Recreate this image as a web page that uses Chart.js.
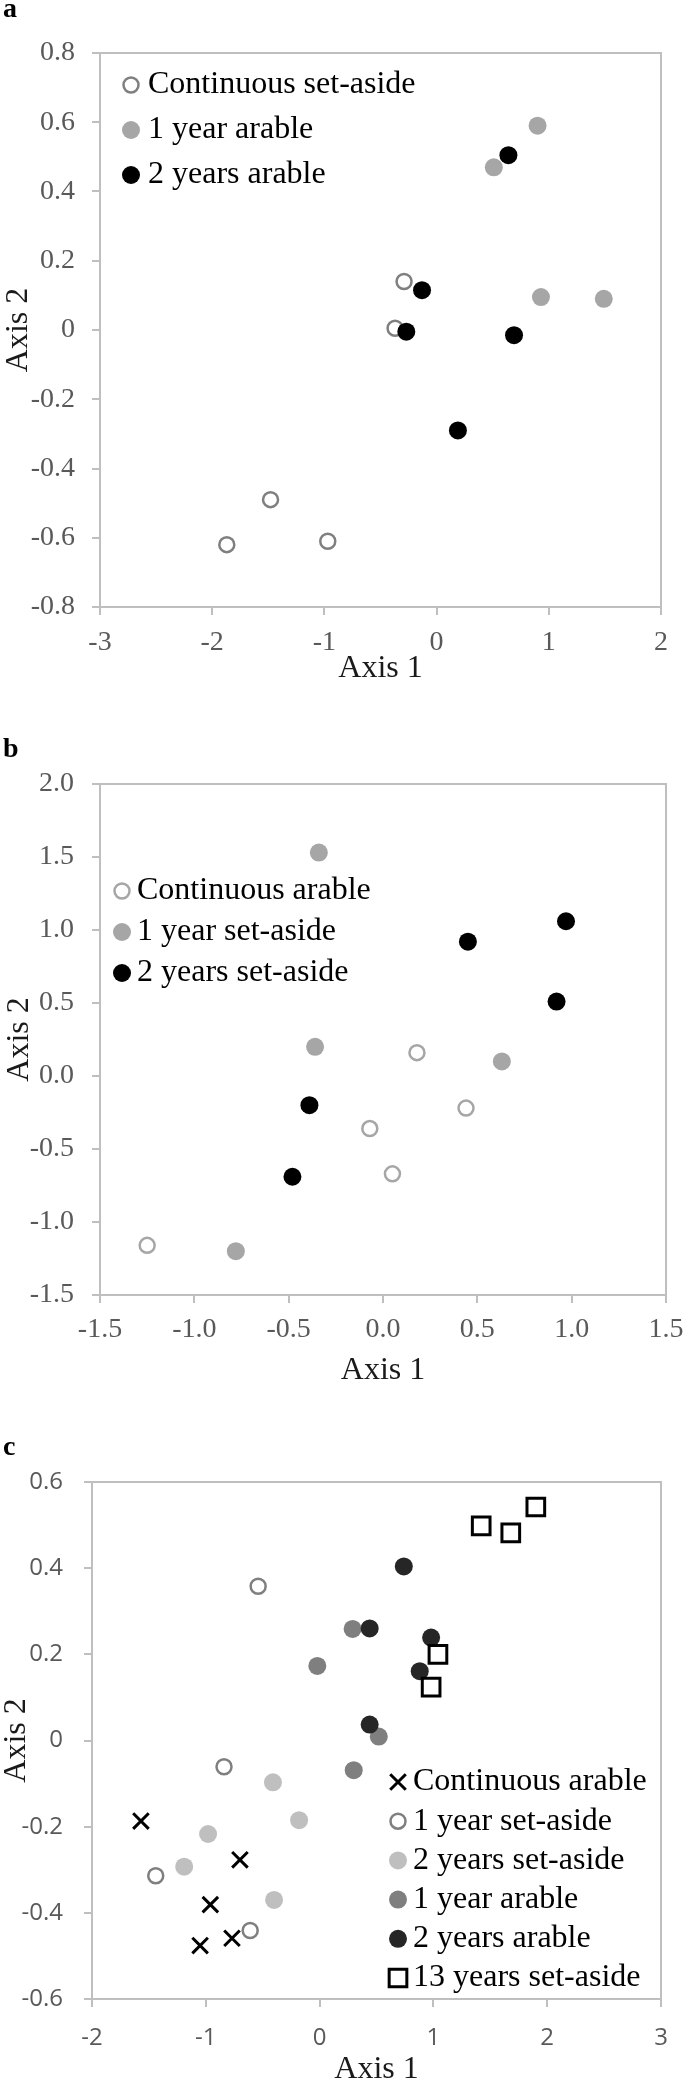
<!DOCTYPE html>
<html>
<head>
<meta charset="utf-8">
<script src="https://cdn.jsdelivr.net/npm/chart.js@4/dist/chart.umd.min.js"></script>
<style>
  body { margin: 0; width: 685px; height: 2081px; overflow: hidden; background: #fff; position: relative; }
  canvas { position: absolute; left: 0; }
  .lbl { position: absolute; left: 3px; font: bold 28px "Liberation Serif", serif; line-height: 28px; color: #000; }
</style>
</head>
<body>
<canvas id="ca" width="685" height="700" style="top:0"></canvas>
<canvas id="cb" width="685" height="700" style="top:700px"></canvas>
<canvas id="cc" width="685" height="700" style="top:1400px"></canvas>
<div class="lbl" style="top:-6px">a</div>
<div class="lbl" style="top:734px">b</div>
<div class="lbl" style="top:1432px">c</div>
<script>
// panel a
const aSetAsideX = [-0.29, -0.37, -1.48, -1.87, -0.97];
const aSetAsideY = [0.14, 0.005, -0.49, -0.62, -0.61];
const aArable1X = [0.90, 0.51, 0.93, 1.49];
const aArable1Y = [0.59, 0.47, 0.095, 0.09];
const aArable2X = [0.64, -0.13, -0.27, 0.69, 0.19];
const aArable2Y = [0.505, 0.115, -0.005, -0.015, -0.29];
const aXTicks = [-3, -2, -1, 0, 1, 2];
const aXLabels = ['-3', '-2', '-1', '0', '1', '2'];
const aYTicks = [-0.8, -0.6, -0.4, -0.2, 0, 0.2, 0.4, 0.6, 0.8];
const aYLabels = ['-0.8', '-0.6', '-0.4', '-0.2', '0', '0.2', '0.4', '0.6', '0.8'];

// panel b
const bArableX = [0.18, 0.44, -0.07, 0.05, -1.25];
const bArableY = [0.16, -0.22, -0.36, -0.67, -1.16];
const bSetAside1X = [-0.34, -0.36, 0.63, -0.78];
const bSetAside1Y = [1.53, 0.20, 0.10, -1.20];
const bSetAside2X = [0.45, 0.97, 0.92, -0.39, -0.48];
const bSetAside2Y = [0.92, 1.06, 0.51, -0.20, -0.69];
const bXTicks = [-1.5, -1.0, -0.5, 0, 0.5, 1.0, 1.5];
const bXLabels = ['-1.5', '-1.0', '-0.5', '0.0', '0.5', '1.0', '1.5'];
const bYTicks = [-1.5, -1.0, -0.5, 0, 0.5, 1.0, 1.5, 2.0];
const bYLabels = ['-1.5', '-1.0', '-0.5', '0.0', '0.5', '1.0', '1.5', '2.0'];

// panel c
const cArableX = [-1.57, -0.70, -0.96, -0.77, -1.05];
const cArableY = [-0.187, -0.277, -0.381, -0.459, -0.476];
const cSetAside1X = [-0.54, -0.84, -1.44, -0.61];
const cSetAside1Y = [0.358, -0.061, -0.314, -0.441];
const cSetAside2X = [-0.41, -0.18, -0.98, -1.19, -0.40];
const cSetAside2Y = [-0.097, -0.185, -0.217, -0.293, -0.370];
const cArable1X = [0.29, -0.02, 0.52, 0.30];
const cArable1Y = [0.259, 0.173, 0.009, -0.069];
const cArable2X = [0.74, 0.44, 0.98, 0.88, 0.44];
const cArable2Y = [0.404, 0.260, 0.239, 0.161, 0.037];
const cSetAside13X = [1.42, 1.68, 1.90, 1.04, 0.98];
const cSetAside13Y = [0.498, 0.482, 0.542, 0.200, 0.124];
const cXTicks = [-2, -1, 0, 1, 2, 3];
const cXLabels = ['-2', '-1', '0', '1', '2', '3'];
const cYTicks = [-0.6, -0.4, -0.2, 0, 0.2, 0.4, 0.6];
const cYLabels = ['-0.6', '-0.4', '-0.2', '0', '0.2', '0.4', '0.6'];

const serif = '"Liberation Serif", "Times New Roman", serif';
const sans = '"Open Sans", "DejaVu Sans", sans-serif';
const axisGrey = '#bfbfbf';

const zip = (xs, ys) => xs.map((x, i) => ({x: x, y: ys[i]}));

// marker styles
const openCircle = (color) => ({pointStyle: 'circle', pointRadius: 7.5, borderWidth: 2.5, borderColor: color, backgroundColor: 'rgba(0,0,0,0)'});
const dot = (color) => ({pointStyle: 'circle', pointRadius: 9, borderWidth: 0, borderColor: color, backgroundColor: color});
const cross = {pointStyle: 'crossRot', pointRadius: 11, borderWidth: 3, borderColor: '#000', backgroundColor: '#000'};
const square = {pointStyle: 'rect', pointRadius: 12.5, borderWidth: 3, borderColor: '#000', backgroundColor: 'rgba(0,0,0,0)'};

function drawMarker(ctx, ds, x, y) {
    const r = ds.pointRadius;
    ctx.save();
    ctx.lineWidth = ds.borderWidth;
    ctx.strokeStyle = ds.borderColor;
    ctx.fillStyle = ds.backgroundColor;
    ctx.beginPath();
    if (ds.pointStyle === 'rect') {
        const s = r * Math.SQRT1_2;
        ctx.rect(x - s, y - s, 2 * s, 2 * s);
    } else if (ds.pointStyle === 'crossRot') {
        const s = r * Math.SQRT1_2;
        ctx.moveTo(x - s, y - s); ctx.lineTo(x + s, y + s);
        ctx.moveTo(x - s, y + s); ctx.lineTo(x + s, y - s);
    } else {
        ctx.arc(x, y, r, 0, Math.PI * 2);
        ctx.fill();
    }
    if (ds.borderWidth > 0) ctx.stroke();
    ctx.restore();
}

// box round the plot area
const frame = {
    id: 'frame',
    beforeDatasetsDraw(chart) {
        const a = chart.chartArea;
        const ctx = chart.ctx;
        ctx.save();
        ctx.strokeStyle = axisGrey;
        ctx.lineWidth = 2;
        ctx.strokeRect(a.left, a.top, a.right - a.left, a.bottom - a.top);
        ctx.restore();
    }
};

// legend drawn inside the plot like the original
const insideLegend = {
    id: 'insideLegend',
    afterDraw(chart, args, opts) {
        const ctx = chart.ctx;
        chart.data.datasets.forEach((ds, i) => {
            const y = opts.y + i * opts.gap;
            drawMarker(ctx, ds, opts.x, y);
            ctx.save();
            ctx.font = '32px ' + serif;
            ctx.fillStyle = '#000';
            ctx.textBaseline = 'middle';
            ctx.fillText(ds.label, opts.textX, y);
            ctx.restore();
        });
    }
};

function makePanel(p) {
    const tickFont = {family: p.tickFamily, size: p.tickSize};
    const titleFont = {family: serif, size: 32, lineHeight: 1};
    const grid = {display: true, drawOnChartArea: false, drawTicks: true, tickLength: 8, color: axisGrey, lineWidth: 2};
    const border = {display: true, color: axisGrey, width: 2};
    const datasets = p.series.map((s, i) => Object.assign({label: s.label, data: s.data, order: 10 - i}, s.style));

    new Chart(document.getElementById(p.id), {
        type: 'scatter',
        data: {datasets: datasets},
        options: {
            responsive: false,
            animation: false,
            devicePixelRatio: 1,
            events: [],
            layout: {padding: p.pad},
            plugins: {
                legend: {display: false},
                tooltip: {enabled: false},
                insideLegend: p.legend
            },
            scales: {
                x: {
                    type: 'linear', position: 'bottom',
                    min: p.xTicks[0], max: p.xTicks[p.xTicks.length - 1],
                    afterBuildTicks: (s) => { s.ticks = p.xTicks.map(v => ({value: v})); },
                    afterFit: (s) => { s.height = p.xH; s.paddingLeft = 0; s.paddingRight = 0; },
                    ticks: {font: tickFont, color: '#595959', padding: p.xTickPad, maxRotation: 0, autoSkip: false,
                        callback: (v, i) => p.xLabels[i]},
                    grid: grid, border: border,
                    title: {display: true, text: 'Axis 1', font: titleFont, color: '#1a1a1a', padding: 0}
                },
                y: {
                    type: 'linear', position: 'left',
                    min: p.yTicks[0], max: p.yTicks[p.yTicks.length - 1],
                    afterBuildTicks: (s) => { s.ticks = p.yTicks.map(v => ({value: v})); },
                    afterFit: (s) => { s.width = p.yW; s.paddingTop = 0; s.paddingBottom = 0; },
                    ticks: {font: tickFont, color: '#595959', padding: p.yTickPad, autoSkip: false,
                        callback: (v, i) => p.yLabels[i]},
                    grid: grid, border: border,
                    title: {display: true, text: 'Axis 2', font: titleFont, color: '#1a1a1a', padding: 0}
                }
            }
        },
        plugins: [frame, insideLegend]
    });
}

window.onload = () => {
    makePanel({
        id: 'ca',
        series: [
            {label: 'Continuous set-aside', data: zip(aSetAsideX, aSetAsideY), style: openCircle('#7f7f7f')},
            {label: '1 year arable', data: zip(aArable1X, aArable1Y), style: dot('#a6a6a6')},
            {label: '2 years arable', data: zip(aArable2X, aArable2Y), style: dot('#000000')}
        ],
        xTicks: aXTicks, xLabels: aXLabels, yTicks: aYTicks, yLabels: aYLabels,
        tickFamily: serif, tickSize: 28,
        pad: {left: 3, right: 24, top: 53, bottom: 15}, yW: 97, xH: 78, xTickPad: 11, yTickPad: 17,
        legend: {x: 131, y: 85, gap: 45, textX: 148}
    });

    makePanel({
        id: 'cb',
        series: [
            {label: 'Continuous arable', data: zip(bArableX, bArableY), style: openCircle('#a6a6a6')},
            {label: '1 year set-aside', data: zip(bSetAside1X, bSetAside1Y), style: dot('#a6a6a6')},
            {label: '2 years set-aside', data: zip(bSetAside2X, bSetAside2Y), style: dot('#000000')}
        ],
        xTicks: bXTicks, xLabels: bXLabels, yTicks: bYTicks, yLabels: bYLabels,
        tickFamily: serif, tickSize: 28,
        pad: {left: 4, right: 19, top: 84, bottom: 13}, yW: 96, xH: 92, xTickPad: 10, yTickPad: 18,
        legend: {x: 122, y: 191, gap: 41, textX: 137}
    });

    makePanel({
        id: 'cc',
        series: [
            {label: 'Continuous arable', data: zip(cArableX, cArableY), style: cross},
            {label: '1 year set-aside', data: zip(cSetAside1X, cSetAside1Y), style: openCircle('#7f7f7f')},
            {label: '2 years set-aside', data: zip(cSetAside2X, cSetAside2Y), style: dot('#bfbfbf')},
            {label: '1 year arable', data: zip(cArable1X, cArable1Y), style: dot('#7f7f7f')},
            {label: '2 years arable', data: zip(cArable2X, cArable2Y), style: dot('#262626')},
            {label: '13 years set-aside', data: zip(cSetAside13X, cSetAside13Y), style: square}
        ],
        xTicks: cXTicks, xLabels: cXLabels, yTicks: cYTicks, yLabels: cYLabels,
        tickFamily: sans, tickSize: 24,
        pad: {left: 1, right: 24, top: 82, bottom: 14}, yW: 91, xH: 87, xTickPad: 17, yTickPad: 21,
        legend: {x: 398, y: 382, gap: 39.2, textX: 413}
    });
};
</script>
</body>
</html>
